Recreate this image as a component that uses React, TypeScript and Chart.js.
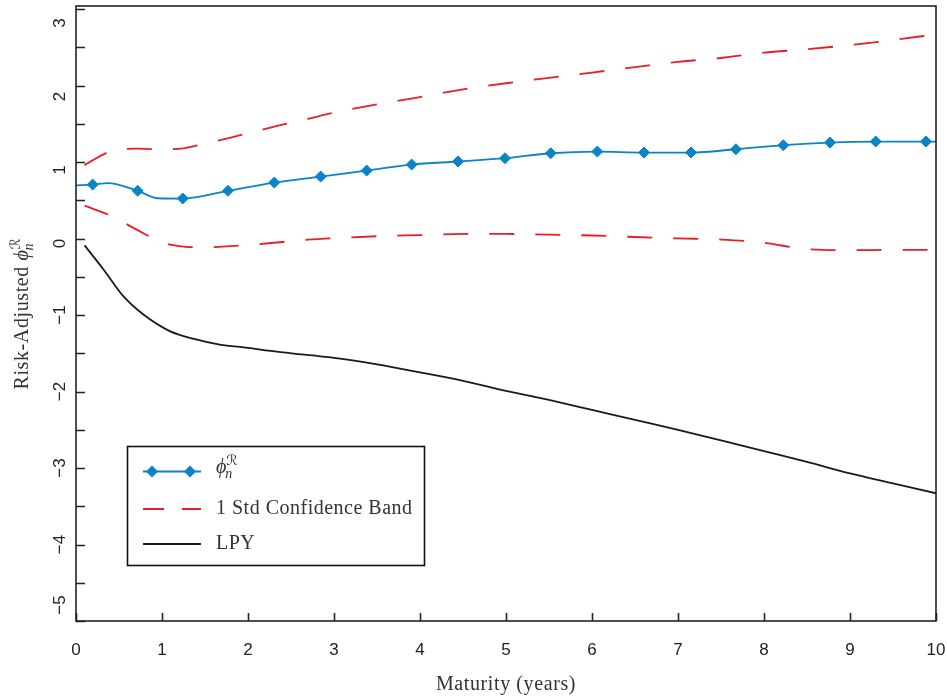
import { useEffect, useRef } from 'react';
import { Chart, registerables } from 'chart.js';
Chart.register(...registerables);

// ---- data ----
const phiMaturity = [0, 0.194, 0.37, 0.717, 0.95, 1.241, 1.767, 2.306, 2.845, 3.38, 3.903, 4.442, 4.988, 5.52, 6.062, 6.605, 7.151, 7.674, 8.224, 8.767, 9.299, 9.884, 10];
const phiValues = [0.695, 0.705, 0.724, 0.624, 0.527, 0.523, 0.624, 0.732, 0.81, 0.889, 0.967, 1.007, 1.05, 1.115, 1.137, 1.124, 1.124, 1.167, 1.22, 1.255, 1.268, 1.268, 1.268];
const phiMarked = [0, 1, 0, 1, 0, 1, 1, 1, 1, 1, 1, 1, 1, 1, 1, 1, 1, 1, 1, 1, 1, 1, 0];

const bandMaturity = [0.1, 0.4, 0.7, 1.0, 1.25, 1.5, 1.8, 2.1, 2.4, 2.7, 3.0, 3.5, 4.0, 4.5, 5.0, 5.5, 6.0, 6.5, 7.0, 7.5, 8.0, 8.5, 9.0, 9.5, 10];
const bandUpper = [0.96, 1.14, 1.175, 1.165, 1.18, 1.24, 1.32, 1.405, 1.49, 1.566, 1.645, 1.755, 1.85, 1.95, 2.03, 2.1, 2.17, 2.24, 2.31, 2.36, 2.43, 2.475, 2.53, 2.595, 2.67];
const bandLower = [0.43, 0.3, 0.12, -0.05, -0.105, -0.115, -0.1, -0.075, -0.045, -0.015, 0.005, 0.03, 0.045, 0.06, 0.06, 0.05, 0.04, 0.02, 0.002, -0.013, -0.055, -0.14, -0.153, -0.148, -0.147];

const lpyMaturity = [0.1, 0.32, 0.55, 0.78, 1.09, 1.36, 1.67, 2.0, 2.26, 2.5, 3.0, 3.5, 4.0, 4.5, 5.0, 5.5, 6.0, 6.5, 7.0, 7.5, 8.0, 8.5, 9.0, 9.5, 10];
const lpyValues = [-0.09, -0.405, -0.754, -0.99, -1.21, -1.31, -1.386, -1.43, -1.47, -1.5, -1.56, -1.645, -1.75, -1.86, -1.99, -2.11, -2.24, -2.37, -2.5, -2.64, -2.78, -2.92, -3.07, -3.2, -3.33];

const xTickValues = [0, 1, 2, 3, 4, 5, 6, 7, 8, 9, 10];
const yTickValues = [-5, -4.5, -4, -3.5, -3, -2.5, -2, -1.5, -1, -0.5, 0, 0.5, 1, 1.5, 2, 2.5, 3];
const yLabelValues = [-5, -4, -3, -2, -1, 0, 1, 2, 3];

const xTitle = 'Maturity (years)';
const yTitle = 'Risk-Adjusted ';
const legendLabels = ['', '1 Std Confidence Band', 'LPY'];

const BLUE = '#0A84C6';
const RED = '#EE1C25';
const BLACK = '#1a1a1a';
const AXIS = '#222222';
const SERIF = "'Liberation Serif', 'DejaVu Serif', serif";
const SANS = "'Liberation Sans', Arial, sans-serif";

const zip = (xs: number[], ys: number[]) => xs.map((x, i) => ({ x, y: ys[i] }));

function drawPhi(ctx: CanvasRenderingContext2D, x: number, base: number, size: number) {
  ctx.font = `italic ${size}px ${SERIF}`;
  ctx.textAlign = 'left';
  ctx.fillText('\u03D5', x, base);
  const w = ctx.measureText('\u03D5').width;
  const small = Math.round(size * 0.7);
  ctx.font = `italic ${small}px ${SERIF}`;
  ctx.fillText('n', x + w - 1, base + size * 0.25);
  ctx.font = `${small}px 'DejaVu Sans', ${SERIF}`;
  ctx.fillText('\u211B', x + w, base - size * 0.38);
}

const customPlugin = {
  id: 'customDraw',
  afterDraw(chart: any) {
    const { ctx, chartArea: a, scales } = chart;
    const xs = scales.x;
    const ys = scales.y;
    ctx.save();
    ctx.strokeStyle = AXIS;
    ctx.lineWidth = 1.6;
    ctx.strokeRect(a.left, a.top, a.right - a.left, a.bottom - a.top);
    ctx.beginPath();
    for (const v of xTickValues) {
      const px = Math.round(xs.getPixelForValue(v)) + 0.5;
      ctx.moveTo(px, a.bottom);
      ctx.lineTo(px, a.bottom - 8);
    }
    for (const v of yTickValues) {
      const py = Math.round(ys.getPixelForValue(v)) + 0.5;
      ctx.moveTo(a.left, py);
      ctx.lineTo(a.left + 9, py);
    }
    ctx.stroke();

    ctx.fillStyle = AXIS;
    ctx.font = `17px ${SANS}`;
    ctx.textAlign = 'center';
    ctx.textBaseline = 'alphabetic';
    for (const v of xTickValues) {
      const px = xs.getPixelForValue(v);
      ctx.fillText(String(v), px, 655);
    }
    for (const v of yLabelValues) {
      let cy = ys.getPixelForValue(v) + (v >= 0 ? 5 + v * 3 : 0);
      if (cy > a.bottom - 14) cy = a.bottom - 16;
      ctx.save();
      ctx.translate(65, cy);
      ctx.rotate(-Math.PI / 2);
      ctx.fillText(v < 0 ? '\u2212' + Math.abs(v) : String(v), 0, 0);
      ctx.restore();
    }

    ctx.fillStyle = '#333';
    ctx.font = `20px ${SERIF}`;
    (ctx as any).letterSpacing = '0.6px';
    ctx.textAlign = 'center';
    ctx.fillText(xTitle, (a.left + a.right) / 2, 690);

    ctx.save();
    ctx.translate(28, 312);
    ctx.rotate(-Math.PI / 2);
    ctx.font = `20px ${SERIF}`;
    const tw = ctx.measureText(yTitle).width;
    const total = tw + 26;
    ctx.textAlign = 'left';
    ctx.fillText(yTitle, -total / 2, 0);
    drawPhi(ctx, -total / 2 + tw, 0, 20);
    ctx.restore();
    (ctx as any).letterSpacing = '0px';

    const L = { x: 127, y: 446, w: 297, h: 119 };
    ctx.fillStyle = '#fff';
    ctx.fillRect(L.x, L.y, L.w, L.h);
    ctx.strokeStyle = '#111';
    ctx.lineWidth = 1.6;
    ctx.strokeRect(L.x + 0.5, L.y + 0.5, L.w, L.h);
    const rows = [471.5, 509, 544];
    const x0 = 143, x1 = 201;
    ctx.strokeStyle = BLUE;
    ctx.lineWidth = 1.8;
    ctx.beginPath(); ctx.moveTo(x0, rows[0]); ctx.lineTo(x1, rows[0]); ctx.stroke();
    ctx.fillStyle = BLUE;
    for (const cx of [152, 190]) {
      ctx.beginPath();
      ctx.moveTo(cx - 6, rows[0]); ctx.lineTo(cx, rows[0] - 6); ctx.lineTo(cx + 6, rows[0]); ctx.lineTo(cx, rows[0] + 6);
      ctx.closePath(); ctx.fill();
    }
    ctx.strokeStyle = RED;
    ctx.setLineDash([21, 18]);
    ctx.beginPath(); ctx.moveTo(x0, rows[1]); ctx.lineTo(x1, rows[1]); ctx.stroke();
    ctx.setLineDash([]);
    ctx.strokeStyle = BLACK;
    ctx.beginPath(); ctx.moveTo(x0, rows[2]); ctx.lineTo(x1, rows[2]); ctx.stroke();
    ctx.fillStyle = '#333';
    drawPhi(ctx, 216, 473, 20);
    ctx.font = `20px ${SERIF}`;
    (ctx as any).letterSpacing = '0.5px';
    ctx.textAlign = 'left';
    ctx.fillText(legendLabels[1], 216, 514);
    ctx.fillText(legendLabels[2], 216, 549);
    (ctx as any).letterSpacing = '0px';
    ctx.restore();
  },
};

export default function App() {
  const ref = useRef<HTMLCanvasElement | null>(null);
  useEffect(() => {
    document.body.style.margin = '0';
    document.body.style.overflow = 'hidden';
    const canvas = ref.current;
    if (!canvas) return;
    const chart = new Chart(canvas, {
      type: 'line',
      data: {
        datasets: [
          {
            label: 'phi',
            data: zip(phiMaturity, phiValues),
            borderColor: BLUE,
            backgroundColor: BLUE,
            borderWidth: 1.8,
            pointStyle: 'rectRot',
            pointRadius: phiMarked.map((m) => (m ? 5.5 : 0)),
            pointBorderWidth: 1,
            pointBorderColor: BLUE,
            pointBackgroundColor: BLUE,
            cubicInterpolationMode: 'monotone',
            order: 0,
          },
          {
            label: 'upper',
            data: zip(bandMaturity, bandUpper),
            borderColor: RED,
            borderWidth: 1.8,
            borderDash: [25, 21],
            pointRadius: 0,
            cubicInterpolationMode: 'monotone',
            order: 1,
          },
          {
            label: 'lower',
            data: zip(bandMaturity, bandLower),
            borderColor: RED,
            borderWidth: 1.8,
            borderDash: [25, 21],
            pointRadius: 0,
            cubicInterpolationMode: 'monotone',
            order: 1,
          },
          {
            label: 'LPY',
            data: zip(lpyMaturity, lpyValues),
            borderColor: BLACK,
            borderWidth: 1.8,
            pointRadius: 0,
            cubicInterpolationMode: 'monotone',
            order: 2,
          },
        ],
      },
      options: {
        responsive: false,
        animation: false,
        events: [],
        layout: { padding: { top: 6, right: 11, left: 0, bottom: 0 } },
        plugins: { legend: { display: false }, tooltip: { enabled: false }, title: { display: false } },
        scales: {
          x: {
            type: 'linear',
            min: 0,
            max: 10,
            grid: { display: false },
            border: { display: false },
            ticks: { display: false },
            afterFit: (s: any) => { s.height = 75; },
          },
          y: {
            type: 'linear',
            min: -5,
            max: 3.04,
            grid: { display: false },
            border: { display: false },
            ticks: { display: false },
            afterFit: (s: any) => { s.width = 76; },
          },
        },
      },
      plugins: [customPlugin],
    } as any);
    return () => chart.destroy();
  }, []);
  return (
    <div style={{ width: 947, height: 696, background: '#fff' }}>
      <canvas ref={ref} width={947} height={696} style={{ display: 'block' }} />
    </div>
  );
}
